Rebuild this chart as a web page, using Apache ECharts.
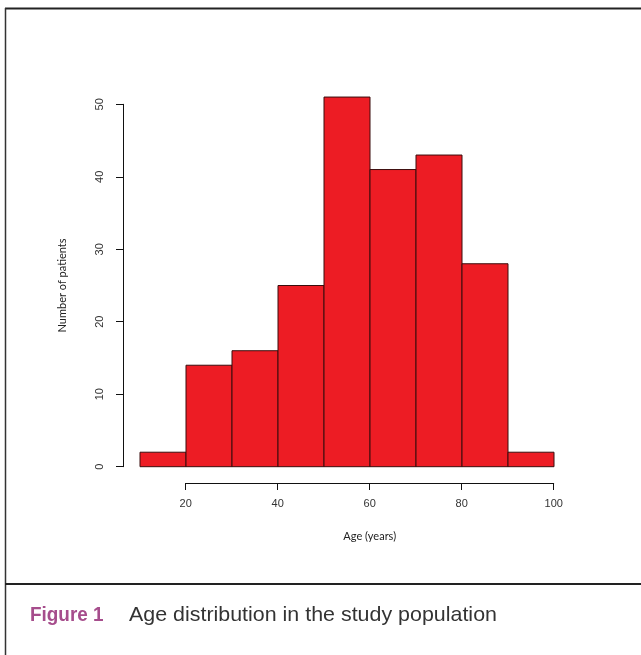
<!DOCTYPE html>
<html>
<head>
<meta charset="utf-8">
<script src="https://cdn.jsdelivr.net/npm/echarts@6/dist/echarts.min.js"></script>
<style>
html,body{margin:0;padding:0;background:#fff;}
#chart{width:641px;height:655px;}
</style>
</head>
<body>
<div id="chart"></div>
<script>
// Histogram data: age bins (years) and patient counts
const binStarts = [10, 20, 30, 40, 50, 60, 70, 80, 90];
const binWidth = 10;
const counts = [2, 14, 16, 25, 51, 41, 43, 28, 2];
const xTicks = [20, 40, 60, 80, 100];
const yTicks = [0, 10, 20, 30, 40, 50];
const xTitle = 'Age (years)';
const yTitle = 'Number of patients';
const captionLabel = 'Figure 1';
const captionText = 'Age distribution in the study population';

const histData = binStarts.map((s, i) => [s, s + binWidth, counts[i]]);

const chart = echarts.init(document.getElementById('chart'), null, {renderer: 'canvas'});

const tickFont = {fontFamily: 'Liberation Sans, Arial, sans-serif', fontSize: 11, color: '#333'};

const option = {
  backgroundColor: '#fff',
  animation: false,
  grid: [
    {left: 140, width: 414, top: 104.3, height: 362.4},
    {left: 185.7, width: 368, top: 470, height: 13},
    {left: 123, width: 10, top: 104.3, height: 362.4}
  ],
  xAxis: [
    {gridIndex: 0, type: 'value', min: 10, max: 100, show: false},
    {gridIndex: 1, type: 'value', min: xTicks[0], max: xTicks[xTicks.length - 1], interval: 20,
      axisLine: {show: true, lineStyle: {color: '#111', width: 1}},
      axisTick: {show: true, length: 7, lineStyle: {color: '#111'}},
      axisLabel: Object.assign({margin: 15, showMinLabel: true, showMaxLabel: true}, tickFont),
      splitLine: {show: false},
      name: xTitle, nameLocation: 'middle', nameGap: 48,
      nameTextStyle: {fontFamily: 'Lato, Open Sans, sans-serif', fontSize: 11, color: '#222'}
    },
    {gridIndex: 2, type: 'value', show: false, min: 0, max: 1}
  ],
  yAxis: [
    {gridIndex: 0, type: 'value', min: 0, max: 50, show: false},
    {gridIndex: 1, type: 'value', show: false, min: 0, max: 1},
    {gridIndex: 2, type: 'value', min: yTicks[0], max: yTicks[yTicks.length - 1], interval: 10,
      axisLine: {show: true, lineStyle: {color: '#111', width: 1}},
      axisTick: {show: true, length: 7, lineStyle: {color: '#111'}},
      axisLabel: Object.assign({margin: 18, rotate: 90, showMinLabel: true, showMaxLabel: true}, tickFont),
      splitLine: {show: false},
      name: yTitle, nameLocation: 'middle', nameGap: 55, nameRotate: 90,
      nameTextStyle: {fontFamily: 'Lato, Open Sans, sans-serif', fontSize: 11, color: '#222'}
    }
  ],
  series: [{
    type: 'custom',
    xAxisIndex: 0, yAxisIndex: 0,
    data: histData,
    encode: {x: [0, 1], y: 2},
    renderItem: function (params, api) {
      const p0 = api.coord([api.value(0), api.value(2)]);
      const p1 = api.coord([api.value(1), 0]);
      return {
        type: 'rect',
        shape: {x: p0[0], y: p0[1], width: p1[0] - p0[0], height: p1[1] - p0[1]},
        style: {fill: '#ED1C24', stroke: '#3a0d0d', lineWidth: 1}
      };
    }
  }],
  graphic: [
    {type: 'line', shape: {x1: 5, y1: 8.5, x2: 641, y2: 8.5}, style: {stroke: '#222', lineWidth: 2}},
    {type: 'line', shape: {x1: 5.5, y1: 8, x2: 5.5, y2: 655}, style: {stroke: '#333', lineWidth: 1.5}},
    {type: 'line', shape: {x1: 5, y1: 584, x2: 641, y2: 584}, style: {stroke: '#222', lineWidth: 2}},
    {type: 'text', x: 30, y: 605, scaleX: 0.9, style: {text: captionLabel, fill: '#A64D8C',
      font: 'bold 21px "Liberation Sans", Arial, sans-serif'}},
    {type: 'text', x: 129, y: 605, scaleX: 1.02, style: {text: captionText, fill: '#333',
      font: '21px "Liberation Sans", Arial, sans-serif'}}
  ]
};
chart.setOption(option);
</script>
</body>
</html>
